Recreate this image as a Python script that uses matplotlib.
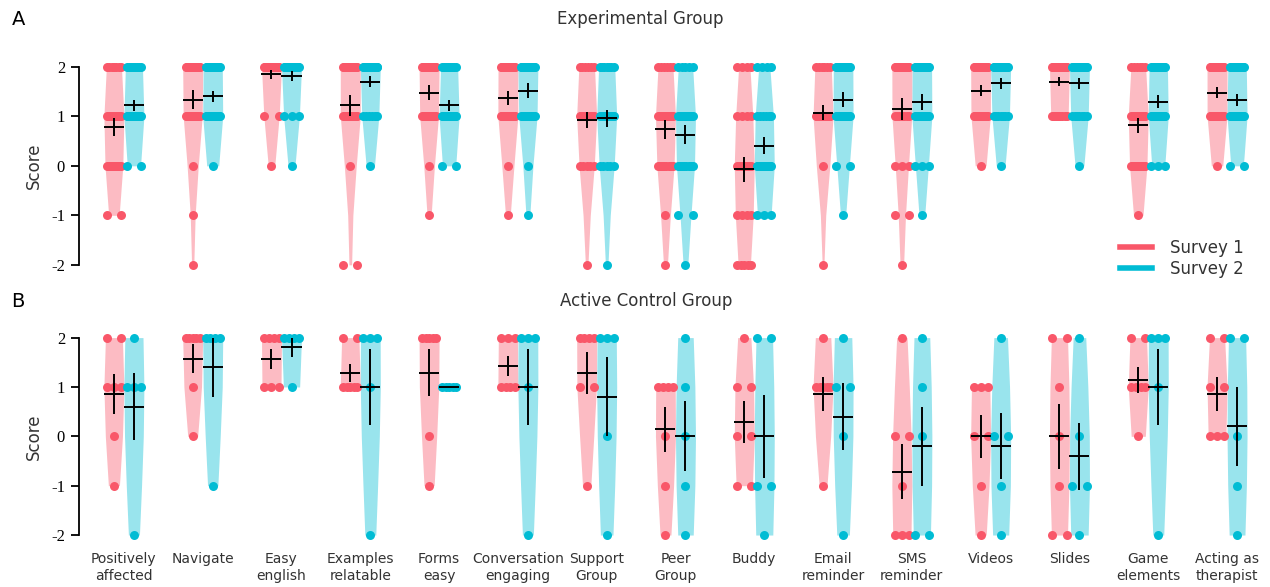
import numpy as np
import matplotlib
matplotlib.use("Agg")
import matplotlib.pyplot as plt
from matplotlib.lines import Line2D

# Likert levels and number of answers at each level, in order -2, -1, 0, 1, 2
LEVELS = [-2, -1, 0, 1, 2]

categories = [
    "Positively\naffected", "Navigate", "Easy\nenglish", "Examples\nrelatable",
    "Forms\neasy", "Conversation\nengaging", "Support\nGroup", "Peer\nGroup",
    "Buddy", "Email\nreminder", "SMS\nreminder", "Videos", "Slides",
    "Game\nelements", "Acting as\ntherapist",
]

exp_survey1 = [
    [0, 2, 9, 9, 7], [1, 1, 1, 9, 15], [0, 0, 1, 2, 24], [2, 0, 1, 11, 13],
    [0, 1, 1, 9, 16], [0, 1, 1, 12, 13], [1, 0, 5, 15, 6], [1, 1, 8, 11, 6],
    [5, 4, 10, 4, 4], [1, 0, 1, 19, 6], [1, 2, 3, 7, 14], [0, 0, 1, 11, 15],
    [0, 0, 0, 8, 19], [0, 1, 9, 11, 6], [0, 0, 1, 12, 14],
]
exp_survey2 = [
    [0, 0, 2, 17, 8], [0, 0, 1, 14, 12], [0, 0, 1, 3, 23], [0, 0, 1, 6, 20],
    [0, 0, 2, 17, 8], [0, 1, 1, 8, 17], [1, 0, 5, 14, 7], [1, 2, 8, 11, 5],
    [0, 3, 14, 6, 4], [0, 1, 2, 11, 13], [0, 1, 3, 10, 13], [0, 0, 1, 7, 19],
    [0, 0, 1, 7, 19], [0, 0, 3, 13, 11], [0, 0, 2, 14, 11],
]
ctrl_survey1 = [
    [0, 1, 1, 3, 2], [0, 0, 1, 1, 5], [0, 0, 0, 3, 4], [0, 0, 0, 5, 2],
    [0, 1, 1, 0, 5], [0, 0, 0, 4, 3], [0, 1, 0, 2, 4], [1, 1, 1, 4, 0],
    [0, 2, 2, 2, 1], [0, 1, 0, 5, 1], [3, 1, 2, 0, 1], [1, 1, 2, 3, 0],
    [2, 1, 1, 1, 2], [0, 0, 1, 4, 2], [0, 0, 3, 2, 2],
]
ctrl_survey2 = [
    [1, 0, 0, 3, 1], [0, 1, 0, 0, 4], [0, 0, 0, 1, 4], [1, 0, 0, 1, 3],
    [0, 0, 0, 5, 0], [1, 0, 0, 1, 3], [1, 0, 1, 0, 3], [1, 1, 1, 1, 1],
    [1, 2, 0, 0, 2], [1, 0, 1, 2, 1], [2, 0, 1, 1, 1], [1, 1, 2, 0, 1],
    [1, 2, 1, 0, 1], [1, 0, 0, 1, 3], [1, 1, 1, 0, 2],
]

RED = "#F95769"
BLUE = "#00BCD4"
TEXT = "#333333"
DODGE = 0.127
HALF_W = 0.127


def half_violin(ax, center, counts, color):
    scores = np.repeat(LEVELS, counts).astype(float)
    n = len(scores)
    mean = scores.mean()
    sd = scores.std(ddof=1) if n > 1 else 0.0

    # violin: gaussian kde evaluated at the answer levels, linear in between
    if sd > 0:
        bw = max(1.2, 2 * sd * n ** (-1 / 5))
        grid = np.arange(scores.min(), scores.max() + 1)
        dens = np.exp(-0.5 * ((grid[:, None] - scores[None, :]) / bw) ** 2).sum(axis=1)
        w = dens / dens.max() * HALF_W
        ax.fill_betweenx(grid, center - w, center + w, color=color,
                         alpha=0.4, lw=0, zorder=1)

    # the answers themselves, spread across the violin
    for lev, c in zip(LEVELS, counts):
        if c == 0:
            continue
        offs = np.linspace(-0.09, 0.09, c) if c > 1 else np.array([0.0])
        ax.scatter(center + offs, np.full(c, lev), s=42, color=color,
                   lw=0, zorder=2)

    # mean +/- standard error
    sem = sd / np.sqrt(n)
    ax.hlines(mean, center - HALF_W, center + HALF_W, color="black", lw=1.4, zorder=3)
    if sem > 0:
        ax.vlines(center, mean - sem, mean + sem, color="black", lw=1.4, zorder=3)


def draw_group(ax, s1, s2, show_labels):
    x = np.arange(len(categories))
    for i in x:
        half_violin(ax, i - DODGE, s1[i], RED)
        half_violin(ax, i + DODGE, s2[i], BLUE)
    ax.set_xlim(-0.57, 14.5)
    ax.set_ylim(-2.2, 2.2)
    ax.set_yticks(LEVELS)
    ax.set_yticklabels([str(v) for v in LEVELS], family="Liberation Serif",
                       fontsize=12)
    ax.set_xticks(x)
    if show_labels:
        ax.set_xticklabels(categories, fontsize=10, color=TEXT, linespacing=1.3)
    else:
        ax.set_xticklabels([])
    ax.tick_params(axis="x", length=0, pad=5)
    ax.tick_params(axis="y", length=6, width=1.3, direction="out", pad=4)
    for side in ("top", "right", "bottom"):
        ax.spines[side].set_visible(False)
    ax.spines["left"].set_bounds(-2, 2)
    ax.spines["left"].set_linewidth(1.3)
    ax.set_ylabel("Score", fontsize=12, color=TEXT, labelpad=6)


fig = plt.figure(figsize=(12.7, 5.87), dpi=100)
ax_a = fig.add_axes([0.0622, 0.532, 0.935, 0.371])
ax_b = fig.add_axes([0.0622, 0.0717, 0.935, 0.370])

draw_group(ax_a, exp_survey1, exp_survey2, show_labels=False)
draw_group(ax_b, ctrl_survey1, ctrl_survey2, show_labels=True)

fig.text(0.504, 0.968, "Experimental Group", ha="center", va="center",
         fontsize=12, color=TEXT)
fig.text(0.509, 0.488, "Active Control Group", ha="center", va="center",
         fontsize=12, color=TEXT)
fig.text(0.009, 0.966, "A", ha="left", va="center", fontsize=14)
fig.text(0.009, 0.486, "B", ha="left", va="center", fontsize=14)

handles = [Line2D([], [], color=RED, lw=4), Line2D([], [], color=BLUE, lw=4)]
fig.legend(handles, ["Survey 1", "Survey 2"], loc="center left",
           bbox_to_anchor=(0.870, 0.56), frameon=False, fontsize=12,
           handlelength=1.9, handletextpad=1.1, labelspacing=0.2,
           labelcolor=TEXT)

fig.savefig("out.png", dpi=100)
